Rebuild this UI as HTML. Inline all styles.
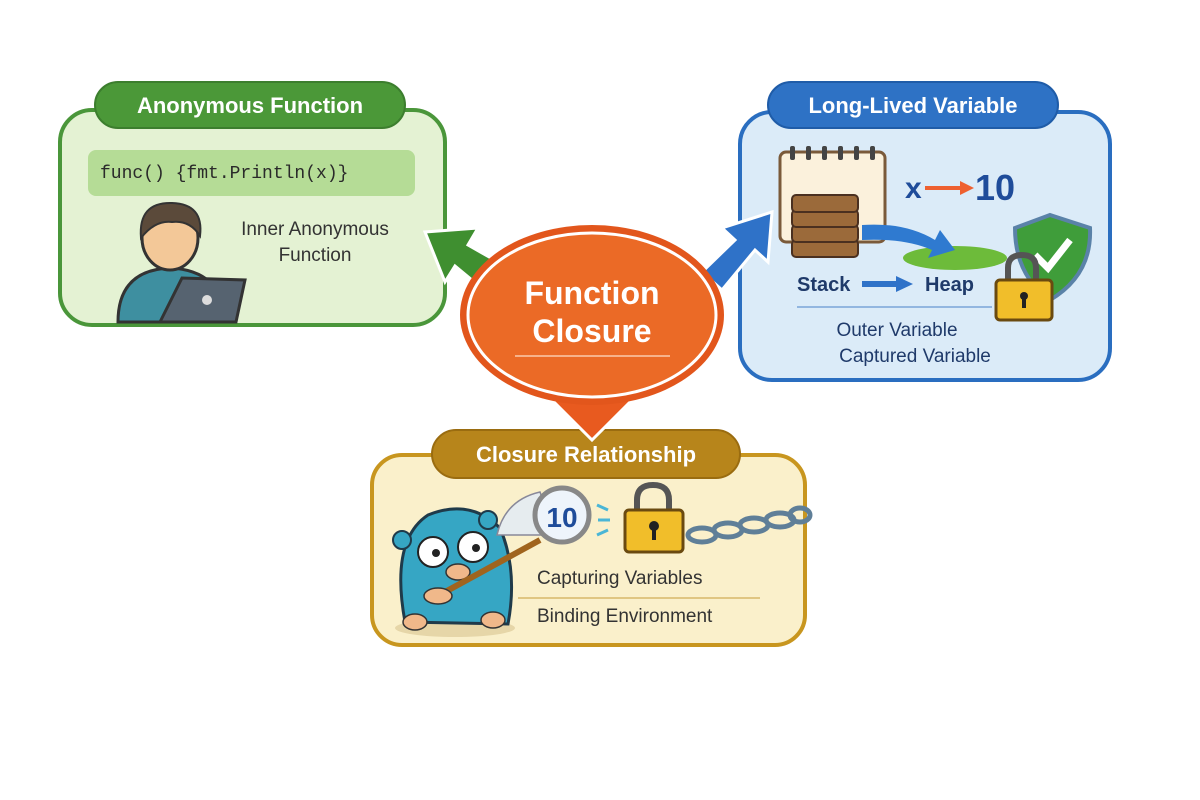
<!DOCTYPE html>
<html><head><meta charset="utf-8"><style>
html,body{margin:0;padding:0;background:#fff;}
svg{display:block;}
text{font-family:"Liberation Sans","DejaVu Sans",sans-serif;}
text.mono{font-family:"Liberation Mono","DejaVu Sans Mono",monospace;}
</style></head><body>
<svg width="1200" height="800" viewBox="0 0 1200 800" xmlns="http://www.w3.org/2000/svg">
<rect width="1200" height="800" fill="#fff"/>

<!-- LEFT PANEL -->
<rect x="60" y="110" width="385" height="215" rx="32" fill="#e4f2d3" stroke="#4a963a" stroke-width="4"/>
<rect x="95" y="82" width="310" height="46" rx="23" fill="#4b9838" stroke="#3c7e2e" stroke-width="2"/>
<text x="250" y="113" font-size="22" font-weight="bold" fill="#fff" text-anchor="middle">Anonymous Function</text>
<rect x="88" y="150" width="327" height="46" rx="8" fill="#b5dc96"/>
<text class="mono" x="100" y="178" font-size="18" fill="#2a2a2a">func() {fmt.Println(x)}</text>
<text x="315" y="235" font-size="19" fill="#333" text-anchor="middle">Inner Anonymous</text>
<text x="315" y="261" font-size="19" fill="#333" text-anchor="middle">Function</text>
<!-- person -->
<path d="M118 322 Q118 270 170 268 Q222 270 228 322 Z" fill="#3e8fa0" stroke="#333" stroke-width="3"/>
<ellipse cx="170" cy="238" rx="28" ry="32" fill="#f3c898" stroke="#333" stroke-width="3"/>
<path d="M141 238 Q138 202 172 203 Q204 204 200 236 Q190 220 172 222 Q155 220 141 238Z" fill="#5b4a3a" stroke="#333" stroke-width="2"/>
<path d="M160 322 L182 278 L245 280 L236 322 Z" fill="#566370" stroke="#333" stroke-width="3"/>
<circle cx="207" cy="300" r="5" fill="#ddd"/>

<!-- green arrow -->
<path d="M498 262 L468 245 L478 228 L425 232 L445 282 L455 266 L484 290 Z" fill="#3f8f30" stroke="#fff" stroke-width="3"/>

<!-- RIGHT PANEL -->
<rect x="740" y="112" width="370" height="268" rx="32" fill="#dbebf8" stroke="#2a6ec0" stroke-width="4"/>
<rect x="768" y="82" width="290" height="46" rx="23" fill="#2e72c5" stroke="#1f5ca8" stroke-width="2"/>
<text x="913" y="113" font-size="22" font-weight="bold" fill="#fff" text-anchor="middle">Long-Lived Variable</text>
<rect x="780" y="152" width="105" height="90" rx="6" fill="#fbf1dc" stroke="#7a5a3a" stroke-width="3"/>
<g fill="#444"><rect x="790" y="146" width="5" height="14" rx="2"/><rect x="806" y="146" width="5" height="14" rx="2"/><rect x="822" y="146" width="5" height="14" rx="2"/><rect x="838" y="146" width="5" height="14" rx="2"/><rect x="854" y="146" width="5" height="14" rx="2"/><rect x="870" y="146" width="5" height="14" rx="2"/></g>
<g fill="#9b6a3a" stroke="#4a3020" stroke-width="2">
<rect x="792" y="240" width="66" height="17" rx="4"/><rect x="792" y="225" width="66" height="17" rx="4"/><rect x="792" y="210" width="66" height="17" rx="4"/><rect x="792" y="195" width="66" height="17" rx="4"/></g>
<text x="905" y="198" font-size="30" font-weight="bold" fill="#1f4c9a">x</text>
<path d="M925 188 L962 188" stroke="#ee6030" stroke-width="4"/><path d="M960 181 L974 188 L960 195Z" fill="#ee6030"/>
<text x="975" y="200" font-size="36" font-weight="bold" fill="#1f4c9a">10</text>
<ellipse cx="955" cy="258" rx="52" ry="12" fill="#6dbb3a"/>
<path d="M862 225 Q905 222 935 240 L940 230 L955 250 L928 258 L932 250 Q905 238 862 240Z" fill="#2f7ad0"/>
<path d="M1050 215 L1090 228 Q1092 275 1050 300 Q1015 275 1015 228Z" fill="#3f9d3a" stroke="#5a82a8" stroke-width="4"/>
<path d="M1035 255 L1048 268 L1070 240" stroke="#fff" stroke-width="7" fill="none"/>
<path d="M1008 282 L1008 268 Q1008 255 1022 255 Q1036 255 1036 268 L1036 282" stroke="#555" stroke-width="6" fill="none"/>
<rect x="996" y="280" width="56" height="40" rx="4" fill="#f1be2a" stroke="#6a4a10" stroke-width="3"/>
<circle cx="1024" cy="296" r="4" fill="#222"/><rect x="1022" y="296" width="4" height="12" fill="#222"/>
<text x="797" y="291" font-size="20" font-weight="bold" fill="#1f3a6a">Stack</text>
<path d="M862 284 L898 284" stroke="#2f72c8" stroke-width="6"/><path d="M896 276 L913 284 L896 292Z" fill="#2f72c8"/>
<text x="925" y="291" font-size="20" fill="#1f3a6a" font-weight="bold">Heap</text>
<line x1="797" y1="307" x2="992" y2="307" stroke="#7aa4d8" stroke-width="1.5"/>
<text x="897" y="336" font-size="19" fill="#1f3a6a" text-anchor="middle">Outer Variable</text>
<text x="915" y="362" font-size="19" fill="#1f3a6a" text-anchor="middle">Captured Variable</text>

<!-- blue arrow -->
<path d="M702 272 L735 240 L722 228 L772 212 L768 262 L755 250 L722 290 Z" fill="#2f72c8" stroke="#fff" stroke-width="3"/>

<!-- BOTTOM PANEL -->
<rect x="372" y="455" width="433" height="190" rx="30" fill="#faf0cb" stroke="#c8961f" stroke-width="4"/>
<rect x="432" y="430" width="308" height="48" rx="24" fill="#b7851b" stroke="#9a6c10" stroke-width="2"/>
<text x="586" y="462" font-size="22" font-weight="bold" fill="#fff" text-anchor="middle">Closure Relationship</text>
<!-- down arrow -->
<path d="M570 375 L614 375 L614 398 L634 398 L592 440 L550 398 L570 398Z" fill="#e85a1f" stroke="#fff" stroke-width="3"/>
<!-- gopher -->
<ellipse cx="455" cy="628" rx="60" ry="9" fill="#e6d6a8"/>
<path d="M405 622 Q390 540 428 515 Q470 498 500 528 Q518 570 508 624 Z" fill="#36a6c4" stroke="#1f3a4a" stroke-width="3"/>
<circle cx="402" cy="540" r="9" fill="#36a6c4" stroke="#1f3a4a" stroke-width="2"/>
<circle cx="488" cy="520" r="9" fill="#36a6c4" stroke="#1f3a4a" stroke-width="2"/>
<circle cx="433" cy="552" r="15" fill="#fff" stroke="#222" stroke-width="2"/><circle cx="436" cy="553" r="4" fill="#222"/>
<circle cx="473" cy="547" r="15" fill="#fff" stroke="#222" stroke-width="2"/><circle cx="476" cy="548" r="4" fill="#222"/>
<ellipse cx="458" cy="572" rx="12" ry="8" fill="#f0b88a" stroke="#333" stroke-width="1.5"/>
<ellipse cx="415" cy="622" rx="12" ry="8" fill="#f0b88a" stroke="#333" stroke-width="1.5"/>
<ellipse cx="493" cy="620" rx="12" ry="8" fill="#f0b88a" stroke="#333" stroke-width="1.5"/>
<path d="M445 592 L540 540" stroke="#a0641e" stroke-width="6"/>
<ellipse cx="438" cy="596" rx="14" ry="8" fill="#f0b88a" stroke="#333" stroke-width="1.5"/>
<!-- net / magnifier -->
<path d="M497 535 Q505 500 540 492 L555 535 Z" fill="#e6ecef" stroke="#889" stroke-width="1.5"/>
<circle cx="562" cy="515" r="27" fill="#eef4fb" stroke="#888" stroke-width="5"/>
<text x="562" y="527" font-size="28" font-weight="bold" fill="#1f4c9a" text-anchor="middle">10</text>
<path d="M597 505 L608 510 M598 520 L610 520 M597 535 L608 530" stroke="#4ab6d6" stroke-width="3"/>
<path d="M637 512 L637 500 Q637 485 653 485 Q669 485 669 500 L669 512" stroke="#555" stroke-width="6" fill="none"/>
<rect x="625" y="510" width="58" height="42" rx="4" fill="#f1be2a" stroke="#6a4a10" stroke-width="3"/>
<circle cx="654" cy="526" r="5" fill="#222"/><rect x="652" y="527" width="4" height="13" fill="#222"/>
<g fill="none" stroke="#5f7f98" stroke-width="5">
<ellipse cx="702" cy="535" rx="14" ry="7"/><ellipse cx="728" cy="530" rx="14" ry="7"/><ellipse cx="754" cy="525" rx="14" ry="7"/><ellipse cx="780" cy="520" rx="14" ry="7"/><ellipse cx="800" cy="515" rx="10" ry="7"/></g>
<text x="537" y="584" font-size="19" fill="#333">Capturing Variables</text>
<line x1="518" y1="598" x2="760" y2="598" stroke="#d8b86a" stroke-width="1.5"/>
<text x="537" y="622" font-size="19" fill="#333">Binding Environment</text>

<!-- CENTER ELLIPSE -->
<ellipse cx="592" cy="315" rx="132" ry="90" fill="#e2561c"/>
<ellipse cx="592" cy="315" rx="124" ry="82" fill="#eb6a26" stroke="#fff" stroke-width="3"/>
<text x="592" y="304" font-size="32" font-weight="bold" fill="#fff" text-anchor="middle">Function</text>
<text x="592" y="342" font-size="32" font-weight="bold" fill="#fff" text-anchor="middle">Closure</text>
<line x1="515" y1="356" x2="670" y2="356" stroke="#f7b28a" stroke-width="2"/>
</svg>
</body></html>
